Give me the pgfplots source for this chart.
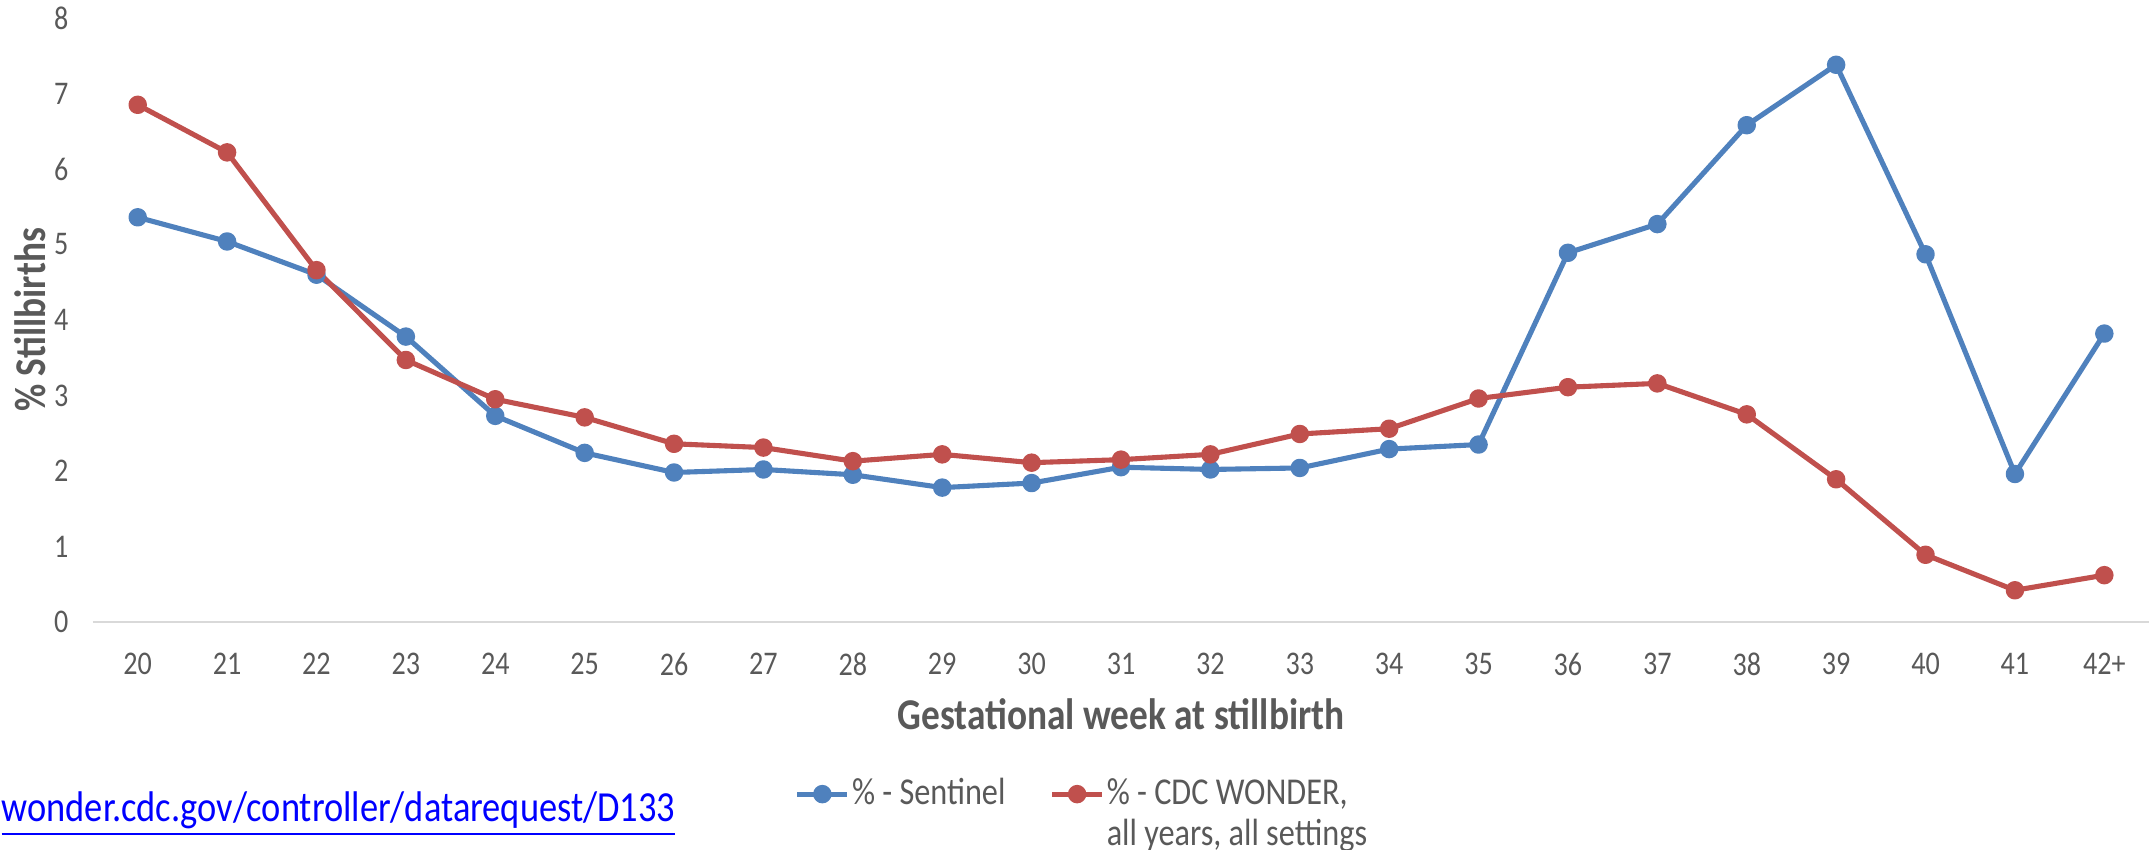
\documentclass[border=0pt]{standalone}
\usepackage{pgfplots}
\pgfplotsset{compat=1.18}
\usepackage{fontspec}
\setmainfont{Carlito}[FakeStretch=0.85]
\definecolor{cblue}{HTML}{4F81BD}
\definecolor{cred}{HTML}{C0504D}
\definecolor{tgray}{HTML}{595959}
\definecolor{agray}{HTML}{D9D9D9}
\begin{document}
\begin{tikzpicture}
\useasboundingbox (0,0) rectangle (21.53cm,8.5cm);
\clip (0,0) rectangle (21.53cm,8.5cm);
\begin{axis}[
  at={(0.93cm,2.28cm)}, anchor=south west,
  scale only axis, width=20.56cm, height=6.04cm,
  xmin=-0.5, xmax=22.5, ymin=0, ymax=8,
  xtick={0,...,22},
  xticklabels={20,21,22,23,24,25,26,27,28,29,30,31,32,33,34,35,36,37,38,39,40,41,42+},
  ytick={0,1,...,8},
  /pgf/number format/assume math mode=true,
  axis x line*=bottom, axis y line*=left,
  x axis line style={draw=agray, line width=0.6pt, -},
  y axis line style={draw=none},
  tick style={draw=none},
  tick label style={font=\fontsize{9.4}{11}\selectfont, text=tgray},
  xticklabel style={anchor=center, yshift=-0.42cm, inner sep=0pt},
  yticklabel style={anchor=east, xshift=-0.24cm, inner sep=0pt},
  every axis x label/.style={at={(axis description cs:0.5,-0.152)}, anchor=center},
  every axis y label/.style={at={(axis description cs:-0.0306,0.5)}, rotate=90, anchor=center},
  label style={font=\fontsize{12.5}{14}\selectfont\bfseries, text=tgray},
  xlabel={Gestational week at stillbirth},
  ylabel={\% Stillbirths},
  legend columns=2,
  legend style={at={(axis description cs:0.341,-0.285)}, anchor=west, draw=none, fill=none, inner sep=0pt,
    font=\fontsize{10.8}{12.5}\selectfont, text=tgray,
    nodes={inner sep=0.6pt},
    /tikz/every even column/.append style={column sep=0.42cm}},
  legend image code/.code={\draw[#1, mark=none] (0cm,0cm) -- (0.5cm,0cm);
    \draw[#1, only marks] plot coordinates {(0.25cm,0cm)};},
  every axis plot/.append style={line width=1.45pt, line join=round, mark=*, mark size=1.9pt},
]
\addplot[cblue, mark options={fill=cblue, draw=cblue}] coordinates {
(0,5.36) (1,5.04) (2,4.60) (3,3.78) (4,2.73) (5,2.24) (6,1.98) (7,2.02) (8,1.95) (9,1.78) (10,1.84)
(11,2.05) (12,2.02) (13,2.04) (14,2.29) (15,2.35) (16,4.89) (17,5.27) (18,6.58) (19,7.38) (20,4.87) (21,1.96) (22,3.82)};
\addlegendentry{\% - Sentinel}
\addplot[cred, mark options={fill=cred, draw=cred}] coordinates {
(0,6.85) (1,6.22) (2,4.66) (3,3.47) (4,2.95) (5,2.71) (6,2.36) (7,2.31) (8,2.13) (9,2.22) (10,2.11)
(11,2.15) (12,2.22) (13,2.49) (14,2.56) (15,2.96) (16,3.11) (17,3.16) (18,2.75) (19,1.89) (20,0.89) (21,0.42) (22,0.62)};
\addlegendentry{\makebox[0pt][l]{\raisebox{-1.08em}[0pt][0pt]{all years, all settings}}\% - CDC WONDER,}
\end{axis}
\node[anchor=east, inner sep=0pt, text=blue, font=\fontsize{12.2}{14}\selectfont] at (6.76cm,0.36cm) {\underline{wonder.cdc.gov/controller/datarequest/D133}};
\end{tikzpicture}
\end{document}
